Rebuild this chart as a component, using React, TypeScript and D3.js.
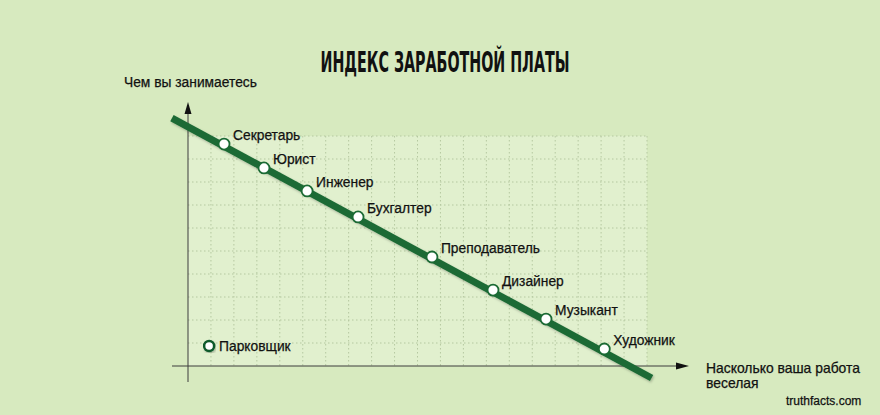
import React from "react";
import * as d3 from "d3";

const jobs = ["Секретарь", "Юрист", "Инженер", "Бухгалтер", "Преподаватель", "Дизайнер", "Музыкант", "Художник"];
const funScore = [1.57, 3.31, 5.19, 7.41, 10.63, 13.29, 15.6, 18.14];
const payScore = [9.65, 8.61, 7.61, 6.48, 4.74, 3.3, 2.04, 0.74];
const outlierLabel = ["Парковщик"];
const outlierFun = [0.92];
const outlierPay = [0.87];
const trendFun = [-0.7, 20.2];
const trendPay = [10.78, -0.52];
const xTicks = d3.range(0, 21);
const yTicks = d3.range(0, 11);

const title = "ИНДЕКС ЗАРАБОТНОЙ ПЛАТЫ";
const yLabel = "Чем вы занимаетесь";
const xLabel1 = "Насколько ваша работа";
const xLabel2 = "веселая";
const credit = "truthfacts.com";

const W = 880;
const H = 415;
const BG = "#d7eabf";
const PLOT_BG = "#e1f0ce";
const GREEN = "#1b6a34";
const FONT = "'Liberation Sans', Arial, sans-serif";
const FS = 13.8;

export default function App() {
  const x = d3.scaleLinear().domain([0, 20]).range([188, 647]);
  const y = d3.scaleLinear().domain([0, 10]).range([366, 136]);
  const line = d3
    .line<number>()
    .x((_, i) => x(trendFun[i]))
    .y((_, i) => y(trendPay[i]));

  const txt = { fill: "#111", stroke: "#111", strokeWidth: 0.25 };

  return (
    <svg
      width={W}
      height={H}
      style={{ position: "absolute", left: 0, top: 0, display: "block" }}
      fontFamily={FONT}
    >
      <defs>
        <filter id="sh" x="-10%" y="-10%" width="120%" height="130%">
          <feDropShadow dx="1" dy="1.5" stdDeviation="1" floodColor="#000" floodOpacity="0.25" />
        </filter>
      </defs>
      <rect width={W} height={H} fill={BG} />
      <text
        x={445}
        y={72}
        textAnchor="middle"
        fontFamily="'DejaVu Sans Condensed', 'Roboto', sans-serif"
        fontWeight="bold"
        fontSize={28}
        textLength={249}
        lengthAdjust="spacingAndGlyphs"
        fill="#111"
      >
        {title}
      </text>

      {/* plot area */}
      <rect x={x(0)} y={y(10)} width={x(20) - x(0)} height={y(0) - y(10)} fill={PLOT_BG} />
      {xTicks.slice(1).map((t) => (
        <line
          key={"gx" + t}
          x1={x(t)}
          x2={x(t)}
          y1={y(10)}
          y2={y(0)}
          stroke="#b5c8a0"
          strokeWidth={1}
          strokeDasharray="1.5,2.5"
        />
      ))}
      {yTicks.slice(1).map((t) => (
        <line
          key={"gy" + t}
          x1={x(0)}
          x2={x(20)}
          y1={y(t)}
          y2={y(t)}
          stroke="#b5c8a0"
          strokeWidth={1}
          strokeDasharray="1.5,2.5"
        />
      ))}

      {/* axes */}
      <line x1={x(0)} x2={x(0)} y1={112} y2={382} stroke="#3c3c3c" strokeWidth={1} />
      <line x1={172} x2={680} y1={y(0)} y2={y(0)} stroke="#3c3c3c" strokeWidth={1} />
      <path d={`M${x(0)},102 L${x(0) - 3.5},114 L${x(0) + 3.5},114 Z`} fill="#111" />
      <path d={`M689,${y(0)} L676,${y(0) - 3.5} L676,${y(0) + 3.5} Z`} fill="#111" />

      <text x={124} y={87} fontSize={FS} {...txt}>
        {yLabel}
      </text>
      <text x={706} y={373} fontSize={13.9} {...txt}>
        {xLabel1}
      </text>
      <text x={706} y={388} fontSize={13.9} {...txt}>
        {xLabel2}
      </text>
      <text x={786} y={405} fontSize={12} {...txt}>
        {credit}
      </text>

      {/* trend line */}
      <path
        d={line(trendFun) || ""}
        stroke={GREEN}
        strokeWidth={7}
        fill="none"
        filter="url(#sh)"
      />

      {jobs.map((j, i) => (
        <g key={j}>
          <circle
            cx={x(funScore[i])}
            cy={y(payScore[i])}
            r={5.5}
            fill="#fff"
            stroke={GREEN}
            strokeWidth={1.8}
          />
          <text x={x(funScore[i]) + 9} y={y(payScore[i]) - 4} fontSize={FS} {...txt}>
            {j}
          </text>
        </g>
      ))}

      {outlierLabel.map((l, i) => (
        <g key={l}>
          <circle
            cx={x(outlierFun[i])}
            cy={y(outlierPay[i])}
            r={5}
            fill="#fff"
            stroke="#0f5a2c"
            strokeWidth={2.5}
            filter="url(#sh)"
          />
          <text x={x(outlierFun[i]) + 10} y={y(outlierPay[i]) + 5} fontSize={FS} {...txt}>
            {l}
          </text>
        </g>
      ))}
    </svg>
  );
}
